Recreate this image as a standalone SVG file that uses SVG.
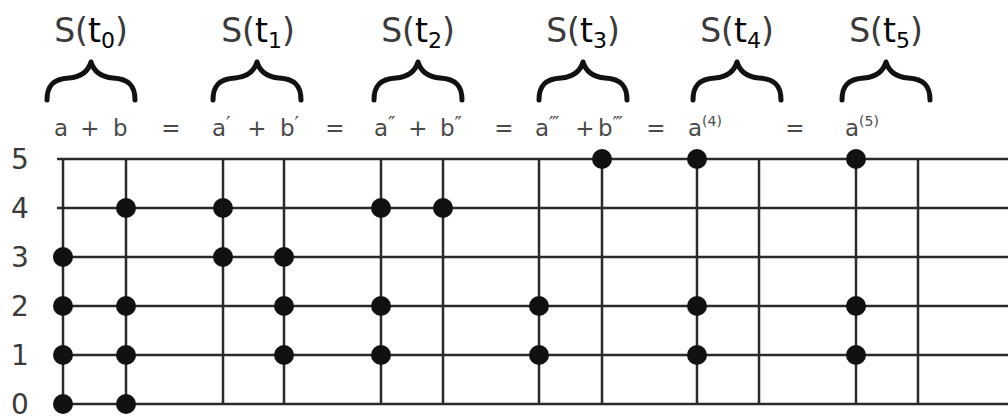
<svg xmlns="http://www.w3.org/2000/svg" width="1008" height="420" viewBox="0 0 1008 420">
<style>
.grid{stroke:#2a2a2a;stroke-width:2.5;fill:none}
.dot{fill:#111}
.title{font-family:"DejaVu Sans",Verdana,sans-serif;font-size:33px;fill:#3a3a3a;text-anchor:middle}
.t{fill:#000}
.sub{font-size:22px;fill:#000}
.eq{font-family:"DejaVu Sans",Verdana,sans-serif;font-size:23px;fill:#4a4a4a}
.op{text-anchor:middle}
.sup{font-size:14px}
.pr{font-size:20px}
.row{font-family:"DejaVu Sans",Verdana,sans-serif;font-size:28px;fill:#3a3a3a;text-anchor:middle}
.brace{fill:none;stroke:#111;stroke-width:5;stroke-linecap:round;stroke-linejoin:round}
</style>
<defs>
<path id="brace" class="brace" d="M -44,38 C -44,24 -38,17 -22,16 C -10,15 -3,10 0,0 C 3,10 10,15 22,16 C 38,17 44,24 44,38"/>
</defs>
<rect width="1008" height="420" fill="#fff"/>
<g id="titles">
<g id="title-t0"><text class="title" x="91" y="42">S(<tspan class="t">t</tspan><tspan class="sub" dy="6">0</tspan><tspan dy="-6">)</tspan></text><use href="#brace" x="91" y="62"/></g>
<g id="title-t1"><text class="title" x="258" y="42">S(<tspan class="t">t</tspan><tspan class="sub" dy="6">1</tspan><tspan dy="-6">)</tspan></text><use href="#brace" x="257" y="62"/></g>
<g id="title-t2"><text class="title" x="418" y="42">S(<tspan class="t">t</tspan><tspan class="sub" dy="6">2</tspan><tspan dy="-6">)</tspan></text><use href="#brace" x="418" y="62"/></g>
<g id="title-t3"><text class="title" x="583" y="42">S(<tspan class="t">t</tspan><tspan class="sub" dy="6">3</tspan><tspan dy="-6">)</tspan></text><use href="#brace" x="583" y="62"/></g>
<g id="title-t4"><text class="title" x="737" y="42">S(<tspan class="t">t</tspan><tspan class="sub" dy="6">4</tspan><tspan dy="-6">)</tspan></text><use href="#brace" x="737" y="62"/></g>
<g id="title-t5"><text class="title" x="886" y="42">S(<tspan class="t">t</tspan><tspan class="sub" dy="6">5</tspan><tspan dy="-6">)</tspan></text><use href="#brace" x="886" y="62"/></g>
</g>
<g id="equation">
<text class="eq" y="136"><tspan x="54">a</tspan><tspan class="op" x="90">+</tspan><tspan x="113">b</tspan></text>
<text class="eq op" x="171" y="136">=</text>
<text class="eq" y="136"><tspan x="212">a</tspan><tspan class="pr" dy="-6">′</tspan><tspan class="op" x="257" dy="6">+</tspan><tspan x="280">b</tspan><tspan class="pr" dy="-6">′</tspan></text>
<text class="eq op" x="335" y="136">=</text>
<text class="eq" y="136"><tspan x="374">a</tspan><tspan class="pr" dy="-6">″</tspan><tspan class="op" x="418" dy="6">+</tspan><tspan x="440">b</tspan><tspan class="pr" dy="-6">″</tspan></text>
<text class="eq op" x="504" y="136">=</text>
<text class="eq" y="136"><tspan x="535">a</tspan><tspan class="pr" dy="-6">‴</tspan><tspan class="op" x="585" dy="6">+</tspan><tspan x="598">b</tspan><tspan class="pr" dy="-6">‴</tspan></text>
<text class="eq op" x="656" y="136">=</text>
<text class="eq" y="136"><tspan x="688">a</tspan><tspan class="sup" dy="-10">(4)</tspan></text>
<text class="eq op" x="795" y="136">=</text>
<text class="eq" y="136"><tspan x="845">a</tspan><tspan class="sup" dy="-10">(5)</tspan></text>
</g>
<g id="row-labels">
<text class="row" x="20" y="169">5</text>
<text class="row" x="20" y="218">4</text>
<text class="row" x="20" y="267">3</text>
<text class="row" x="20" y="316">2</text>
<text class="row" x="20" y="365">1</text>
<text class="row" x="20" y="414">0</text>
</g>
<g id="connectors">
<path class="grid" d="M57,159H1008 M57,208H1008 M57,257H1008 M57,306H1008 M57,355H1008 M57,404H1008"/>
<path class="grid" d="M63,159V404 M126,159V404 M223,159V404 M284,159V404 M381,159V404 M443,159V404 M539,159V404 M602,159V404 M697,159V404 M759,159V404 M856,159V404 M918,159V404"/>
</g>
<g id="nodes">
<g id="col-63"><circle class="dot" cx="63" cy="257" r="10"/><circle class="dot" cx="63" cy="306" r="10"/><circle class="dot" cx="63" cy="355" r="10"/><circle class="dot" cx="63" cy="404" r="10"/></g>
<g id="col-126"><circle class="dot" cx="126" cy="208" r="10"/><circle class="dot" cx="126" cy="306" r="10"/><circle class="dot" cx="126" cy="355" r="10"/><circle class="dot" cx="126" cy="404" r="10"/></g>
<g id="col-223"><circle class="dot" cx="223" cy="208" r="10"/><circle class="dot" cx="223" cy="257" r="10"/></g>
<g id="col-284"><circle class="dot" cx="284" cy="257" r="10"/><circle class="dot" cx="284" cy="306" r="10"/><circle class="dot" cx="284" cy="355" r="10"/></g>
<g id="col-381"><circle class="dot" cx="381" cy="208" r="10"/><circle class="dot" cx="381" cy="306" r="10"/><circle class="dot" cx="381" cy="355" r="10"/></g>
<g id="col-443"><circle class="dot" cx="443" cy="208" r="10"/></g>
<g id="col-539"><circle class="dot" cx="539" cy="306" r="10"/><circle class="dot" cx="539" cy="355" r="10"/></g>
<g id="col-602"><circle class="dot" cx="602" cy="159" r="10"/></g>
<g id="col-697"><circle class="dot" cx="697" cy="159" r="10"/><circle class="dot" cx="697" cy="306" r="10"/><circle class="dot" cx="697" cy="355" r="10"/></g>
<g id="col-856"><circle class="dot" cx="856" cy="159" r="10"/><circle class="dot" cx="856" cy="306" r="10"/><circle class="dot" cx="856" cy="355" r="10"/></g>
</g>
</svg>
